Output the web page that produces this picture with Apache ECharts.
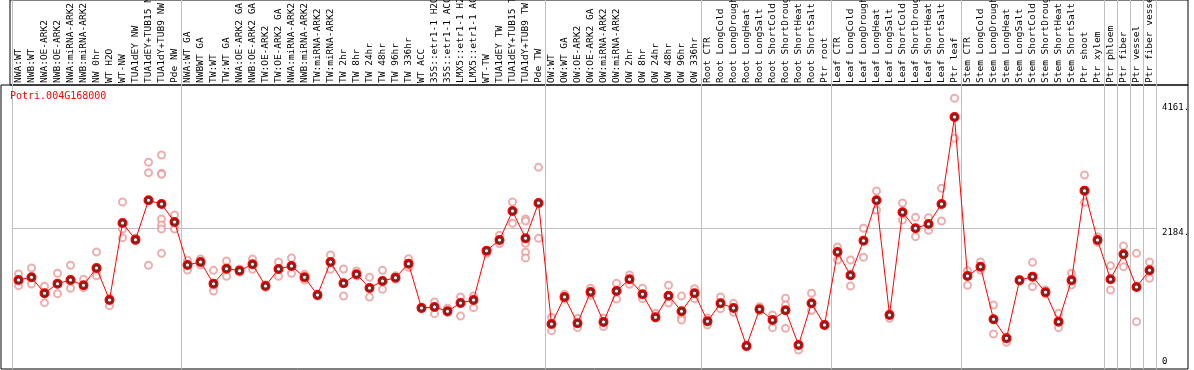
<!DOCTYPE html>
<html>
<head>
<meta charset="utf-8">
<script src="https://cdn.jsdelivr.net/npm/echarts@6/dist/echarts.min.js"></script>
<style>
  html, body { margin: 0; padding: 0; background: #fff; }
  #chart { width: 1194px; height: 370px; }
</style>
</head>
<body>
<div id="chart"></div>
<script>
const geneId = "Potri.004G168000"

const categories = [
  "NWA:WT", "NWB:WT", "NWA:OE-ARK2", "NWB:OE-ARK2", "NWA:miRNA-ARK2", "NWB:miRNA-ARK2",
  "NW 0hr", "WT H2O", "WT-NW", "TUA1dEY NW", "TUA1dEY+TUB15 NW", "TUA1dY+TUB9 NW", "Pde NW",
  "NWA:WT GA", "NWBWT GA", "TW:WT", "TW:WT GA", "NWA:OE-ARK2 GA", "NWB:OE-ARK2 GA",
  "TW:OE-ARK2", "TW:OE-ARK2 GA", "NWA:miRNA-ARK2", "NWB:miRNA-ARK2", "TW:miRNA-ARK2", "TW:miRNA-ARK2",
  "TW 2hr", "TW 8hr", "TW 24hr", "TW 48hr", "TW 96hr", "TW 336hr", "WT ACC",
  "35S::etr1-1 H2O", "35S::etr1-1 ACC", "LMX5::etr1-1 H2O", "LMX5::etr1-1 ACC",
  "WT-TW", "TUA1dEY TW", "TUA1dEY+TUB15 TW", "TUA1dY+TUB9 TW", "Pde TW",
  "OW:WT", "OW:WT GA", "OW:OE-ARK2", "OW:OE-ARK2 GA", "OW:miRNA-ARK2", "OW:miRNA-ARK2",
  "OW 2hr", "OW 8hr", "OW 24hr", "OW 48hr", "OW 96hr", "OW 336hr",
  "Root CTR", "Root LongCold", "Root LongDrought", "Root LongHeat", "Root LongSalt",
  "Root ShortCold", "Root ShortDrought", "Root ShortHeat", "Root ShortSalt", "Ptr root",
  "Leaf CTR", "Leaf LongCold", "Leaf LongDrought", "Leaf LongHeat", "Leaf LongSalt",
  "Leaf ShortCold", "Leaf ShortDrought", "Leaf ShortHeat", "Leaf ShortSalt", "Ptr leaf",
  "Stem CTR", "Stem LongCold", "Stem LongDrought", "Stem LongHeat", "Stem LongSalt",
  "Stem ShortCold", "Stem ShortDrought", "Stem ShortHeat", "Stem ShortSalt", "Ptr shoot",
  "Ptr xylem", "Ptr phloem", "Ptr fiber", "Ptr vessel", "Ptr fiber vessel"
]

// mean expression per sample
const means = [
  1364, 1407, 1153, 1306, 1364, 1280, 1554, 1047, 2268, 2004, 2628, 2569, 2284,
  1602, 1649, 1306, 1544, 1512, 1613, 1269, 1538, 1586, 1407, 1126, 1649,
  1311, 1454, 1237, 1348, 1401, 1623, 920, 936, 867, 999, 1047,
  1829, 1998, 2458, 2025, 2585,
  666, 1094, 677, 1174, 698, 1190, 1375, 1137, 772, 1115, 867, 1153,
  709, 994, 920, 317, 899, 730, 883, 333, 994, 650,
  1808, 1438, 1988, 2628, 809, 2437, 2184, 2252, 2569, 3949,
  1427, 1575, 740, 439, 1359, 1417, 1168, 703, 1359, 2781,
  1998, 1375, 1771, 1253, 1517
]

// individual replicates per sample
const replicates = [
  [1459, 1337, 1274], [1554, 1391, 1300], [1264, 1147, 1004], [1470, 1300, 1147],
  [1597, 1375, 1232], [1375, 1280, 1242], [1808, 1502, 1432], [1074, 1047, 957],
  [2601, 2173, 2035], [2030, 1990, 1990], [3231, 3066, 1597],
  [3347, 3056, 3040, 2331, 2236, 2173, 1787], [2395, 2284, 2173],
  [1676, 1602, 1523], [1697, 1649, 1600], [1517, 1269, 1190], [1665, 1544, 1422],
  [1540, 1512, 1490], [1697, 1613, 1533], [1290, 1269, 1250], [1649, 1538, 1422],
  [1713, 1586, 1470], [1454, 1407, 1364], [1140, 1126, 1110], [1760, 1649, 1533],
  [1538, 1311, 1110], [1507, 1454, 1427], [1407, 1237, 1094], [1517, 1348, 1216],
  [1430, 1401, 1380], [1702, 1623, 1565], [935, 920, 905], [1015, 936, 830],
  [915, 867, 850], [1094, 999, 793], [1110, 1047, 925],
  [1829, 1800, 1787], [2073, 1998, 1940], [2601, 2458, 2263],
  [2331, 2300, 1946, 1803, 1713], [3151, 2585, 2025],
  [772, 666, 560], [1137, 1094, 1060], [756, 677, 608], [1232, 1174, 1120],
  [756, 698, 624], [1311, 1190, 1063], [1443, 1375, 1295], [1232, 1137, 1068],
  [836, 772, 760], [1280, 1115, 999], [1110, 772, 730], [1226, 1153, 1068],
  [760, 709, 650], [1094, 994, 909], [994, 920, 851], [330, 317, 305],
  [941, 899, 870], [809, 730, 608], [1074, 967, 598], [340, 333, 254],
  [1153, 994, 878], [660, 650, 640],
  [1887, 1808, 1681], [1681, 1438, 1269], [2184, 1988, 1724], [2776, 2628, 2474],
  [830, 809, 756], [2585, 2437, 2316], [2358, 2184, 2051], [2353, 2252, 2152],
  [2818, 2569, 2300], [4246, 3949, 3611],
  [1512, 1427, 1280], [1649, 1575, 1520], [967, 740, 508], [460, 439, 375],
  [1370, 1359, 1350], [1644, 1417, 1258], [1205, 1168, 1140], [836, 703, 608],
  [1470, 1359, 1285], [3029, 2781, 2596],
  [2051, 1998, 1960], [1591, 1375, 1205], [1903, 1771, 1575], [1787, 1253, 703],
  [1649, 1517, 1391]
]

// samples where a new group starts (gray separator on the left)
const groupStarts = [0, 13, 41, 53, 63, 73, 84, 85, 86, 87]
const yTickValues = [0, 2184, 4161]
const refLine = 2184

const mono = "DejaVu Sans Mono"
const chart = echarts.init(document.getElementById("chart"))

const repPoints = []
replicates.forEach((vals, i) => {
  vals.forEach((v) => repPoints.push([i, v]))
})
const meanPoints = means.map((v, i) => [i, v])

const option = {
  backgroundColor: "#fff",
  animation: false,
  title: {
    text: geneId,
    left: 10,
    top: 91,
    padding: 0,
    textStyle: { color: "#ff0000", fontSize: 10, fontWeight: "normal", fontFamily: mono },
  },
  grid: [
    { left: 12, right: 38, top: 0, bottom: 1, outerBoundsMode: "none", containLabel: false },
    { left: 1, right: 6, top: 85, bottom: 1, outerBoundsMode: "none", show: true, borderColor: "#000", borderWidth: 1, backgroundColor: "transparent" },
    { left: 10, right: 6, top: 0, height: 85, outerBoundsMode: "none", show: true, borderColor: "#000", borderWidth: 1, backgroundColor: "transparent" },
  ],
  xAxis: [
    {
      type: "category",
      gridIndex: 0,
      data: categories,
      position: "top",
      offset: -85,
      boundaryGap: true,
      axisLine: { show: false },
      axisTick: { show: false },
      axisLabel: {
        interval: 0,
        rotate: 90,
        margin: 2,
        fontSize: 9.5,
        fontFamily: mono,
        color: "#000",
      },
      splitLine: {
        show: true,
        interval: (index) => groupStarts.includes(index),
        lineStyle: { color: "#c0c0c0", width: 1 },
      },
    },
    { type: "value", gridIndex: 1, show: false },
    { type: "value", gridIndex: 2, show: false },
  ],
  yAxis: [
    {
      type: "value",
      gridIndex: 0,
      position: "right",
      min: -48,
      max: 5805,
      axisLine: { show: true, lineStyle: { color: "#c0c0c0", width: 1 } },
      axisTick: { show: false },
      splitLine: { show: false },
      axisLabel: {
        customValues: yTickValues,
        margin: 6,
        formatter: (v) => (v === 0 ? "{low|0}" : "{high|" + v + ".}"),
        rich: {
          high: { fontSize: 9, fontFamily: mono, color: "#000", padding: [8, 0, 0, 0] },
          low: { fontSize: 9, fontFamily: mono, color: "#000", padding: [0, 0, 8, 0] },
        },
      },
    },
    { type: "value", gridIndex: 1, show: false },
    { type: "value", gridIndex: 2, show: false },
  ],
  series: [
    {
      name: "replicates",
      type: "scatter",
      xAxisIndex: 0,
      yAxisIndex: 0,
      data: repPoints,
      symbol: "emptyCircle",
      symbolSize: 7,
      itemStyle: { color: "#e89a9a", borderWidth: 1 },
      z: 2,
      silent: true,
    },
    {
      name: "mean",
      type: "line",
      xAxisIndex: 0,
      yAxisIndex: 0,
      data: means,
      symbol: "emptyCircle",
      symbolSize: 8,
      lineStyle: { color: "#ff0000", width: 1 },
      itemStyle: { color: "#ff0000", borderWidth: 1.5 },
      z: 3,
      markLine: {
        silent: true,
        symbol: "none",
        label: { show: false },
        lineStyle: { color: "#c0c0c0", type: "solid", width: 1 },
        data: [{ yAxis: refLine }],
        z: 1,
      },
    },
    {
      name: "mean core",
      type: "scatter",
      xAxisIndex: 0,
      yAxisIndex: 0,
      data: meanPoints,
      symbol: "emptyCircle",
      symbolSize: 5,
      itemStyle: { color: "#500000", borderWidth: 0.7 },
      z: 4,
      silent: true,
    },
  ],
}

chart.setOption(option)

window.addEventListener("resize", () => chart.resize())
</script>
</body>
</html>
